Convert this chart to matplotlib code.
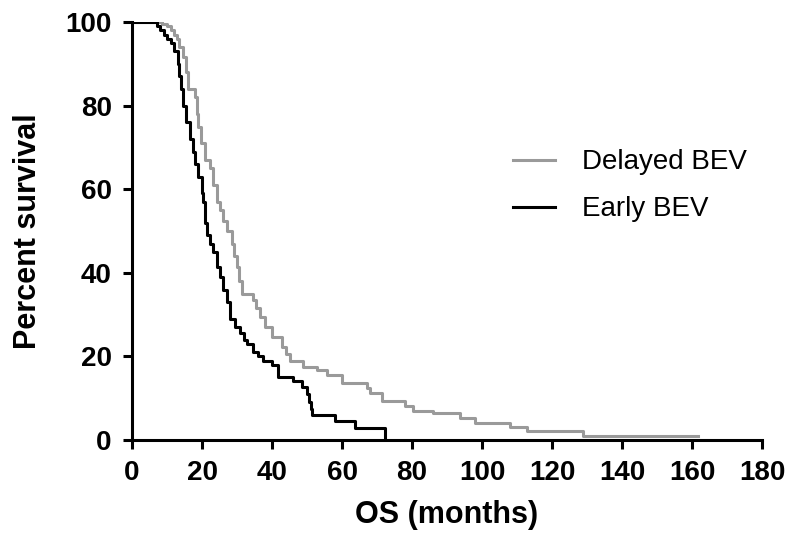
import matplotlib
matplotlib.use("Agg")
import matplotlib.pyplot as plt

plt.rcParams['font.family'] = ['Liberation Sans', 'DejaVu Sans']

# Kaplan-Meier steps (time in months, % surviving after that time)
early_t = [0, 7, 8, 9, 10, 11, 12, 13, 13.5, 14, 14.6, 15.5, 16.6, 17.3, 18, 18.9,
           19.9, 20.3, 20.9, 21.4, 22.2, 23.2, 24.2, 25, 26, 27, 28, 29.5, 30.9, 32,
           32.8, 34.6, 36, 37.5, 39.9, 41.7, 46, 48.5, 49.9, 50.5, 51, 51.5, 58, 63.7, 72.3]
early_s = [100, 99, 98, 97, 96, 95, 93, 90, 87, 84, 80, 76, 72, 69, 66, 63,
           59, 57, 52, 49, 47, 45, 41.5, 39, 36, 33, 29, 27, 25.6, 24,
           23, 21, 20, 19, 18, 15, 14, 12.7, 11, 9, 7.5, 6, 4.6, 2.9, 0]

delayed_t = [0, 8.5, 10, 11, 12, 12.8, 13.5, 14.6, 15.3, 16, 18, 18.5, 18.9, 19.8, 20.9,
             22.3, 23, 24.2, 25, 26, 27, 28.5, 29.2, 29.9, 30.6, 31.3, 34.7, 35.5, 36.6,
             38, 39.9, 42.8, 44, 45, 48.9, 52.8, 55.6, 60, 67, 68, 71.3, 78, 80.4,
             86, 93.7, 98, 108, 112.8, 128.9, 161.8]
delayed_s = [100, 99.5, 99, 98, 97, 96, 94, 91.6, 88, 84, 82, 78, 75, 71, 67,
             65, 61, 57, 55, 52.5, 50, 47, 44, 41.5, 38, 35, 33.5, 31.5, 29.5,
             27, 24.7, 22.3, 20.5, 19, 17.5, 16.7, 15.5, 13.6, 12.4, 11.2, 9.3, 8.1, 7.0,
             6.5, 5.2, 4.0, 3.0, 2.2, 1.0, 1.0]

xticks = [0, 20, 40, 60, 80, 100, 120, 140, 160, 180]
yticks = [0, 20, 40, 60, 80, 100]

fig = plt.figure(figsize=(7.89, 5.44), dpi=100)
ax = fig.add_axes([132/789, 104/544, 630/789, 418/544])

ax.step(delayed_t, delayed_s, where='post', color='#9a9a9a', lw=2.2, label='Delayed BEV')
ax.step(early_t, early_s, where='post', color='black', lw=2.2, label='Early BEV')

ax.set_xlim(0, 180)
ax.set_ylim(0, 100)
ax.set_xticks(xticks)
ax.set_yticks(yticks)
for s in ['top', 'right']:
    ax.spines[s].set_visible(False)
for s in ['left', 'bottom']:
    ax.spines[s].set_linewidth(2.2)
ax.tick_params(width=2.2, length=6.5, labelsize=20, pad=8)
for lab in ax.get_xticklabels() + ax.get_yticklabels():
    lab.set_fontweight('bold')

ax.set_xlabel('OS (months)', fontsize=22, fontweight='bold', labelpad=10)
ax.set_ylabel('Percent survival', fontsize=22, fontweight='bold', labelpad=16)

ax.legend(loc='upper left', bbox_to_anchor=(0.565, 0.755), frameon=False,
          fontsize=20, handlelength=1.5, handletextpad=1.0, labelspacing=0.75)

fig.savefig('out.png', dpi=100)
